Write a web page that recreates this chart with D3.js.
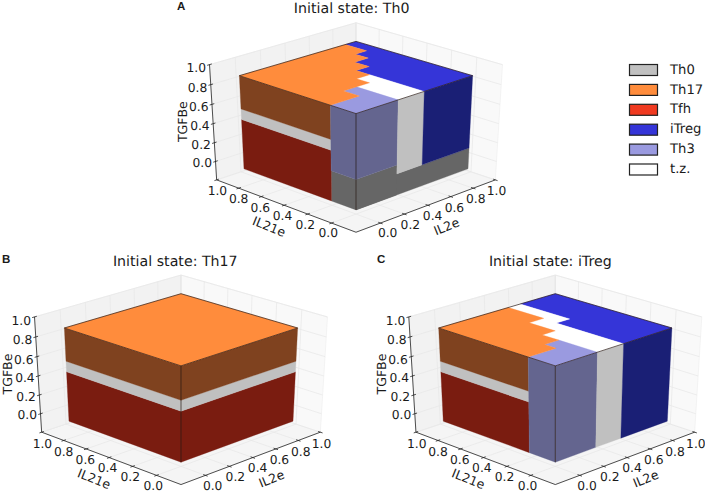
<!DOCTYPE html>
<html>
<head>
<meta charset="utf-8">
<script src="https://d3js.org/d3.v7.min.js"></script>
<style>
  html, body { margin: 0; padding: 0; background: #fff; }
  text { font-family: "DejaVu Sans", sans-serif; fill: #1a1a1a; text-rendering: geometricPrecision; }
</style>
</head>
<body>
<div id="chart"></div>
<script>
// axis values
const tickValues = [0, 0.2, 0.4, 0.6, 0.8, 1.0];
const axisRange = [-0.2, 1.0];
const boxRange = [-0.08, 0.88];
const boxZRange = [-0.08, 0.89];
const tfhTop = 0.444;
const th0Top = 0.553;
const baseLow = 0.143;
const baseHigh = 0.235;

const stateNames = ["Th0", "Th17", "Tfh", "iTreg", "Th3", "t.z."];
const legendColors = ["#c0c0c0", "#ff8c3c", "#f03a20", "#3535d8", "#9a9ae0", "#ffffff"];
const sideColors = {Th0: "#c0c0c0", Base: "#666666", Th17: "#7f421f", Tfh: "#7a1c10", iTreg: "#1a1f75", Th3: "#64658f"};

// top view regions, [IL2e, IL21e]
const topA = [
    ["iTreg", [[0.47, -0.08], [0.88, -0.08], [0.88, 0.88], [0.789, 0.88], [0.789, 0.698], [0.693, 0.698], [0.693, 0.589], [0.578, 0.589], [0.578, 0.467], [0.47, 0.467]]],
    ["t.z.", [[0.256, -0.08], [0.47, -0.08], [0.47, 0.357], [0.362, 0.357], [0.362, 0.251], [0.256, 0.251]]],
    ["Th3", [[-0.08, -0.08], [0.256, -0.08], [0.256, 0.251], [0.15, 0.251], [0.15, 0.122], [-0.08, 0.122]]],
    ["Th17", [[-0.08, 0.122], [0.15, 0.122], [0.15, 0.251], [0.362, 0.251], [0.362, 0.357], [0.47, 0.357], [0.47, 0.467], [0.578, 0.467], [0.578, 0.589], [0.693, 0.589], [0.693, 0.698], [0.789, 0.698], [0.789, 0.88], [-0.08, 0.88]]]
];
const topB = [
    ["Th17", [[-0.08, -0.08], [0.88, -0.08], [0.88, 0.88], [-0.08, 0.88]]]
];
const topC = [
    ["iTreg", [[0.47, -0.08], [0.88, -0.08], [0.88, 0.88], [0.582, 0.88], [0.582, 0.462], [0.47, 0.462]]],
    ["t.z.", [[0.256, -0.08], [0.47, -0.08], [0.47, 0.462], [0.582, 0.462], [0.582, 0.88], [0.482, 0.88], [0.482, 0.578], [0.362, 0.578], [0.362, 0.362], [0.256, 0.362]]],
    ["Th3", [[-0.08, -0.08], [0.256, -0.08], [0.256, 0.227], [0.141, 0.227], [0.141, 0.134], [-0.08, 0.134]]],
    ["Th17", [[-0.08, 0.134], [0.141, 0.134], [0.141, 0.227], [0.256, 0.227], [0.256, 0.362], [0.362, 0.362], [0.362, 0.578], [0.482, 0.578], [0.482, 0.88], [-0.08, 0.88]]]
];

// side walls, [state, from, to, z from, z to]
const bandsFull = [
    ["Tfh", -0.08, 0.88, -0.08, tfhTop],
    ["Th0", -0.08, 0.88, tfhTop, th0Top],
    ["Th17", -0.08, 0.88, th0Top, 0.89]
];
const leftA = [
    ["Base", -0.08, 0.122, -0.08, baseHigh],
    ["Tfh", 0.122, 0.88, -0.08, tfhTop],
    ["Th0", 0.122, 0.88, tfhTop, th0Top],
    ["Th17", 0.122, 0.88, th0Top, 0.89],
    ["Th3", -0.08, 0.122, baseHigh, 0.89]
];
const rightA = [
    ["Base", -0.08, 0.88, -0.08, baseLow],
    ["Base", -0.08, 0.256, -0.08, baseHigh],
    ["Th3", -0.08, 0.256, baseHigh, 0.89],
    ["Th0", 0.256, 0.47, baseLow, 0.89],
    ["iTreg", 0.47, 0.88, baseLow, 0.89]
];
const leftC = [
    ["Tfh", 0.134, 0.88, -0.08, tfhTop],
    ["Th0", 0.134, 0.88, tfhTop, th0Top],
    ["Th17", 0.134, 0.88, th0Top, 0.89],
    ["Th3", -0.08, 0.134, -0.08, 0.89]
];
const rightC = [
    ["Th3", -0.08, 0.256, -0.08, 0.89],
    ["Th0", 0.256, 0.47, -0.08, 0.89],
    ["iTreg", 0.47, 0.88, -0.08, 0.89]
];

const panels = [
    {letter: "A", title: "Initial state: Th0", cx: 356, cy: 123.7, titleX: 351.7, titleY: 13, letterX: 177, letterY: 10, top: topA, left: leftA, right: rightA},
    {letter: "B", title: "Initial state: Th17", cx: 181, cy: 376, titleX: 175.3, titleY: 265.5, letterX: 2, letterY: 262.5, top: topB, left: bandsFull, right: bandsFull},
    {letter: "C", title: "Initial state: iTreg", cx: 555.3, cy: 376, titleX: 550.3, titleY: 265.5, letterX: 377, letterY: 262.5, top: topC, left: leftC, right: rightC}
];

const svg = d3.select("#chart").append("svg")
    .attr("width", 705)
    .attr("height", 492)
    .style("display", "block");

// data range to unit box
const norm = d3.scaleLinear().domain(axisRange).range([-0.5, 0.5]);
const elev = 30 * Math.PI / 180;
const dist = 10;
const scaleX = 202;
const scaleY = 133;

function project(il2, il21, z, p) {
    const a = norm(il2), b = norm(il21), c = norm(z);
    const right = (a - b) / Math.SQRT2;
    const up = (a + b) / Math.SQRT2 * Math.sin(elev) + c * Math.cos(elev);
    const depth = dist + (a + b) / Math.SQRT2 * Math.cos(elev) - c * Math.sin(elev);
    const k = dist / depth;
    return [p.cx + scaleX * right * k, p.cy - scaleY * up * k];
}

panels.forEach(function (p) {
    const g = svg.append("g");
    const lo = axisRange[0], hi = axisRange[1];
    const path = pts => d3.line()(pts.map(d => project(d[0], d[1], d[2], p))) + "Z";

    // panes
    const panes = [
        {fill: "#f5f5f5", pts: [[lo, lo, lo], [hi, lo, lo], [hi, hi, lo], [lo, hi, lo]]},
        {fill: "#f9f9f9", pts: [[hi, lo, lo], [hi, hi, lo], [hi, hi, hi], [hi, lo, hi]]},
        {fill: "#f2f2f2", pts: [[lo, hi, lo], [hi, hi, lo], [hi, hi, hi], [lo, hi, hi]]}
    ];
    g.selectAll(".pane").data(panes).enter().append("path")
        .attr("class", "pane")
        .attr("d", d => path(d.pts))
        .attr("fill", d => d.fill)
        .attr("stroke", "#ececec")
        .attr("stroke-width", 0.6);

    // grid
    const grid = [];
    tickValues.forEach(function (t) {
        grid.push([[t, lo, lo], [t, hi, lo]], [[t, hi, lo], [t, hi, hi]]);
        grid.push([[lo, t, lo], [hi, t, lo]], [[hi, t, lo], [hi, t, hi]]);
        grid.push([[lo, hi, t], [hi, hi, t]], [[hi, lo, t], [hi, hi, t]]);
    });
    g.selectAll(".grid").data(grid).enter().append("path")
        .attr("class", "grid")
        .attr("d", d => d3.line()(d.map(q => project(q[0], q[1], q[2], p))))
        .attr("fill", "none")
        .attr("stroke", "#e6e6e6")
        .attr("stroke-width", 0.7);

    // axis lines
    const axes = [
        [[lo, hi, lo], [lo, lo, lo]],
        [[lo, lo, lo], [hi, lo, lo]],
        [[lo, hi, lo], [lo, hi, hi]]
    ];
    g.selectAll(".axis").data(axes).enter().append("path")
        .attr("class", "axis")
        .attr("d", d => d3.line()(d.map(q => project(q[0], q[1], q[2], p))))
        .attr("fill", "none")
        .attr("stroke", "#222")
        .attr("stroke-width", 0.8);

    // ticks, labels drift a little along the two floor axes
    const tickLen = 0.018;
    const ticks = [];
    tickValues.forEach(function (t) {
        ticks.push({a: [lo - tickLen, t, lo], b: [lo + tickLen, t, lo], t: t, dx: -1 + 4 * t, dy: 10 + 1.5 * t});
        ticks.push({a: [t, lo - tickLen, lo], b: [t, lo + tickLen, lo], t: t, dx: 5 - 6 * t, dy: 10 + 1.5 * t});
        ticks.push({a: [lo + tickLen, hi, t], b: [lo - tickLen, hi, t], t: t, dx: -15.5, dy: 3 + 2 * t});
    });
    g.selectAll(".tick").data(ticks).enter().append("path")
        .attr("class", "tick")
        .attr("d", d => d3.line()([project(d.a[0], d.a[1], d.a[2], p), project(d.b[0], d.b[1], d.b[2], p)]))
        .attr("stroke", "#222")
        .attr("stroke-width", 0.8);
    g.selectAll(".ticklabel").data(ticks).enter().append("text")
        .attr("class", "ticklabel")
        .attr("x", d => project(d.a[0], d.a[1], d.a[2], p)[0] + d.dx)
        .attr("y", d => project(d.a[0], d.a[1], d.a[2], p)[1] + d.dy)
        .attr("text-anchor", "middle")
        .attr("dominant-baseline", "middle")
        .style("font-size", "12.3px")
        .text(d => d3.format(".1f")(d.t));

    // side walls
    const x0 = boxRange[0], x1 = boxRange[1], zT = boxZRange[1], z0 = boxZRange[0];
    g.selectAll(".wallLeft").data(p.left).enter().append("path")
        .attr("class", "wallLeft")
        .attr("d", d => path([[x0, d[1], d[3]], [x0, d[2], d[3]], [x0, d[2], d[4]], [x0, d[1], d[4]]]))
        .attr("fill", d => sideColors[d[0]])
        .attr("stroke", d => sideColors[d[0]])
        .attr("stroke-width", 0.3);
    g.selectAll(".wallRight").data(p.right).enter().append("path")
        .attr("class", "wallRight")
        .attr("d", d => path([[d[1], x0, d[3]], [d[2], x0, d[3]], [d[2], x0, d[4]], [d[1], x0, d[4]]]))
        .attr("fill", d => sideColors[d[0]])
        .attr("stroke", d => sideColors[d[0]])
        .attr("stroke-width", 0.3);

    // top regions
    g.selectAll(".topRegion").data(p.top).enter().append("path")
        .attr("class", "topRegion")
        .attr("d", d => path(d[1].map(q => [q[0], q[1], zT])))
        .attr("fill", d => legendColors[stateNames.indexOf(d[0])])
        .attr("stroke", d => legendColors[stateNames.indexOf(d[0])])
        .attr("stroke-width", 0.3);

    // box outline
    const edges = [
        [[x0, x0, zT], [x1, x0, zT]],
        [[x1, x0, zT], [x1, x1, zT]],
        [[x1, x1, zT], [x0, x1, zT]],
        [[x0, x1, zT], [x0, x0, zT]],
        [[x0, x0, zT], [x0, x0, z0]]
    ];
    g.selectAll(".edge").data(edges).enter().append("path")
        .attr("class", "edge")
        .attr("d", d => d3.line()(d.map(q => project(q[0], q[1], q[2], p))))
        .attr("fill", "none")
        .attr("stroke", "#2a1a14")
        .attr("stroke-width", 0.7);

    // axis labels
    const labelXY = project(lo - 0.07, 0.42, lo, p);
    const labelX2 = project(0.42, lo - 0.07, lo, p);
    const labelZ = project(lo, hi, 0.4, p);
    g.append("text")
        .attr("transform", "translate(" + (labelXY[0] - 4.5) + "," + (labelXY[1] + 20) + ") rotate(22)")
        .attr("text-anchor", "middle")
        .attr("dominant-baseline", "middle")
        .style("font-size", "12.5px")
        .text("IL21e");
    g.append("text")
        .attr("transform", "translate(" + (labelX2[0] + 8) + "," + (labelX2[1] + 20) + ") rotate(-22)")
        .attr("text-anchor", "middle")
        .attr("dominant-baseline", "middle")
        .style("font-size", "12.5px")
        .text("IL2e");
    g.append("text")
        .attr("transform", "translate(" + (labelZ[0] - 30) + "," + (labelZ[1] - 2) + ") rotate(-90)")
        .attr("text-anchor", "middle")
        .attr("dominant-baseline", "middle")
        .style("font-size", "12.5px")
        .text("TGFBe");

    // titles
    g.append("text")
        .attr("x", p.titleX)
        .attr("y", p.titleY)
        .attr("text-anchor", "middle")
        .style("font-size", "14.2px")
        .text(p.title);
    g.append("text")
        .attr("x", p.letterX)
        .attr("y", p.letterY)
        .style("font-family", "'Liberation Sans', sans-serif")
        .style("font-weight", "bold")
        .style("font-size", "11.5px")
        .text(p.letter);
});

// legend
const legendRow = d3.scaleLinear().domain([0, 5]).range([70, 169.5]);
const legendGroup = svg.selectAll(".legend")
    .data(stateNames)
    .enter()
    .append("g")
    .attr("class", "legend")
    .attr("transform", (d, i) => "translate(0," + legendRow(i) + ")");
legendGroup.append("rect")
    .attr("x", 629.5)
    .attr("y", -5.5)
    .attr("width", 28)
    .attr("height", 11)
    .attr("fill", (d, i) => legendColors[i])
    .attr("stroke", "#222")
    .attr("stroke-width", 1.2);
legendGroup.append("text")
    .attr("x", 670)
    .attr("y", 0)
    .attr("dominant-baseline", "middle")
    .style("font-size", "13.2px")
    .text(d => d);
</script>
</body>
</html>
